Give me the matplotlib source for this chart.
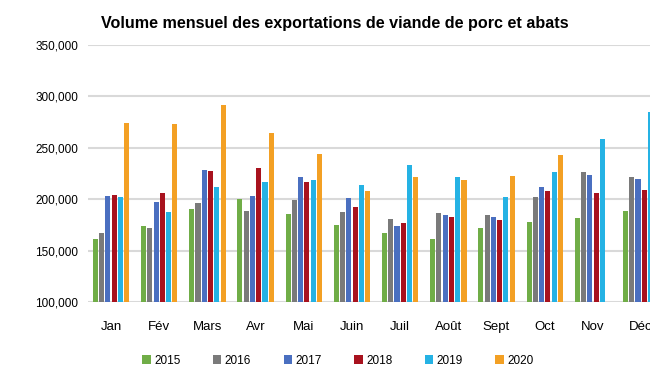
import numpy as np
import matplotlib
matplotlib.use('Agg')
import matplotlib.pyplot as plt

plt.rcParams['font.family'] = ['Liberation Sans', 'DejaVu Sans']

# Data
months = ['Jan', 'Fév', 'Mars', 'Avr', 'Mai', 'Juin', 'Juil', 'Août', 'Sept', 'Oct', 'Nov', 'Déc']
years = ['2015', '2016', '2017', '2018', '2019', '2020']
v2015 = [161700, 174000, 190900, 200300, 185400, 175000, 167200, 161000, 172100, 177600, 181800, 188300]
v2016 = [167200, 172000, 196400, 189000, 199700, 188000, 180500, 187000, 184400, 202300, 226000, 222000]
v2017 = [203300, 197700, 228600, 203300, 222100, 200700, 174000, 184700, 182800, 211700, 223700, 219500]
v2018 = [203900, 206200, 227900, 230500, 216900, 192200, 177000, 182500, 179900, 208100, 206500, 209200]
v2019 = [202300, 187300, 211700, 216900, 218500, 213600, 233400, 222100, 202300, 226000, 259000, 285000]
v2020 = [273700, 272700, 291600, 264000, 243800, 207800, 222100, 218500, 222700, 242900, np.nan, np.nan]
series = [v2015, v2016, v2017, v2018, v2019, v2020]
colors = ['#70ad47', '#7a7a7a', '#4a6fc0', '#a8121e', '#25b2e4', '#f3a024']

fig = plt.figure(figsize=(6.5, 3.66), dpi=100)
# axes run past the right edge, as in the cropped reference
ax = fig.add_axes([0.1354, 0.1749, 0.888, 0.702])

x = np.arange(len(months))
step = 0.13
for i, (vals, c) in enumerate(zip(series, colors)):
    ax.bar(x + (i - 2.5) * step, vals, width=0.105, color=c, label=years[i], zorder=3)

ax.set_ylim(100000, 350000)
ax.set_xlim(-0.477, 11.5)
ax.set_yticks(np.arange(100000, 350001, 50000))
ax.set_yticklabels(['{:,}'.format(v) for v in range(100000, 350001, 50000)], fontsize=8.5)
ax.set_xticks(x)
ax.set_xticklabels(months, fontsize=9.5)
ax.tick_params(axis='y', length=0, pad=7)
ax.tick_params(axis='x', length=0, pad=14)
ax.grid(axis='y', color='#d9d9d9', lw=1.5, zorder=0)
for s in ax.spines.values():
    s.set_visible(False)

fig.text(0.515, 0.937, 'Volume mensuel des exportations de viande de porc et abats',
         ha='center', va='center', fontsize=11.6, fontweight='bold')

fig.legend(loc='center', bbox_to_anchor=(0.52, 0.015), ncol=6, frameon=False,
           fontsize=8.5, handlelength=0.7, handleheight=0.7, handletextpad=0.3,
           columnspacing=2.75)

fig.savefig('out.png', dpi=100)
